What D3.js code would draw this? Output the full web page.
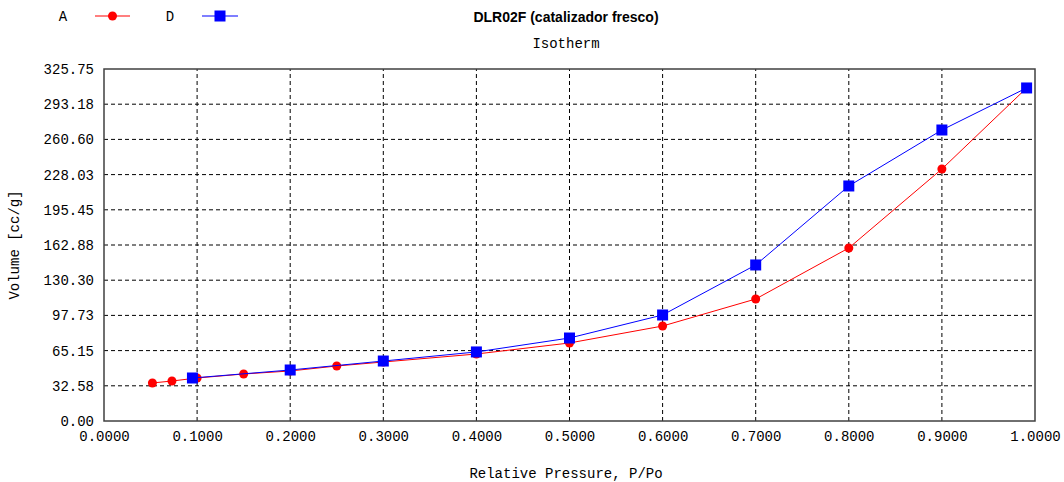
<!DOCTYPE html>
<html>
<head>
<meta charset="utf-8">
<script src="https://cdn.jsdelivr.net/npm/d3@7"></script>
<style>
  body { margin: 0; background: #fff; }
  svg { display: block; }
</style>
</head>
<body>
<div id="grafico"></div>
<script>
// datos
var presionA = [0.052, 0.073, 0.100, 0.150, 0.200, 0.250, 0.300, 0.400, 0.500, 0.600, 0.700, 0.800, 0.900, 0.991];
var volumenA = [35.2, 37.0, 39.8, 43.5, 46.3, 50.9, 54.6, 62.0, 72.2, 87.9, 112.9, 160.1, 233.2, 308.2];
var presionD = [0.095, 0.200, 0.300, 0.400, 0.500, 0.600, 0.700, 0.800, 0.900, 0.991];
var volumenD = [39.8, 47.2, 55.5, 63.9, 76.8, 98.1, 144.4, 217.5, 269.3, 308.2];
var ticksX = [0, 0.1, 0.2, 0.3, 0.4, 0.5, 0.6, 0.7, 0.8, 0.9, 1.0];
var ticksY = [0, 32.575, 65.15, 97.725, 130.3, 162.875, 195.45, 228.025, 260.6, 293.175, 325.75];
var etiquetasY = ["0.00", "32.58", "65.15", "97.73", "130.30", "162.88", "195.45", "228.03", "260.60", "293.18", "325.75"];

var ancho = 1064, alto = 482;
var m = {izq: 104, der: 29, arr: 69, aba: 61};
var mono = "'Liberation Mono', 'Courier New', monospace";

var svg = d3.select("#grafico").append("svg").attr("width", ancho).attr("height", alto);

var x = d3.scaleLinear().domain([0, 1]).range([m.izq, ancho - m.der]);
var y = d3.scaleLinear().domain([0, 325.75]).range([alto - m.aba, m.arr]);

// rejilla punteada
svg.append("g").selectAll("line").data(ticksX.slice(1, -1)).enter().append("line")
   .attr("x1", d => x(d)).attr("x2", d => x(d))
   .attr("y1", y(0)).attr("y2", y(325.75))
   .style("stroke", "#000").style("stroke-dasharray", "4,3");
svg.append("g").selectAll("line").data(ticksY.slice(1, -1)).enter().append("line")
   .attr("x1", x(0)).attr("x2", x(1))
   .attr("y1", d => y(d)).attr("y2", d => y(d))
   .style("stroke", "#000").style("stroke-dasharray", "4,3");

// ejes
var ejeX = svg.append("g").attr("transform", "translate(0," + y(0) + ")")
   .call(d3.axisBottom(x).tickValues(ticksX).tickSize(0).tickPadding(10).tickFormat(d3.format(".4f")));
var ejeY = svg.append("g").attr("transform", "translate(" + x(0) + ",0)")
   .call(d3.axisLeft(y).tickValues(ticksY).tickSize(0).tickPadding(10).tickFormat((d, i) => etiquetasY[i]));
[ejeX, ejeY].forEach(function (g) {
   g.select(".domain").remove();
   g.selectAll("text").style("font-family", mono).style("font-size", "14px").style("fill", "#000");
});

// marco
svg.append("rect")
   .attr("x", x(0)).attr("y", y(325.75))
   .attr("width", x(1) - x(0)).attr("height", y(0) - y(325.75))
   .style("fill", "none").style("stroke", "#404040").style("stroke-width", 1.5);

// series
var linea = d3.line().x(d => x(d[0])).y(d => y(d[1]));
var serieA = presionA.map((p, i) => [p, volumenA[i]]);
var serieD = presionD.map((p, i) => [p, volumenD[i]]);

svg.append("path").attr("d", linea(serieA))
   .style("fill", "none").style("stroke", "#ff0000").style("stroke-width", 1);
svg.append("g").selectAll("circle").data(serieA).enter().append("circle")
   .attr("cx", d => x(d[0])).attr("cy", d => y(d[1])).attr("r", 4.5)
   .style("fill", "#ff0000");

svg.append("path").attr("d", linea(serieD))
   .style("fill", "none").style("stroke", "#0000ff").style("stroke-width", 1);
svg.append("g").selectAll("rect").data(serieD).enter().append("rect")
   .attr("x", d => x(d[0]) - 5.5).attr("y", d => y(d[1]) - 5.5)
   .attr("width", 11).attr("height", 11)
   .style("fill", "#0000ff");

// titulos
var centro = 566;
svg.append("text").attr("x", centro).attr("y", 22).attr("text-anchor", "middle")
   .style("font-family", "'Liberation Sans', Arial, sans-serif").style("font-weight", "bold").style("font-size", "14px")
   .text("DLR02F (catalizador fresco)");
svg.append("text").attr("x", centro).attr("y", 48).attr("text-anchor", "middle")
   .style("font-family", mono).style("font-size", "14px").text("Isotherm");
svg.append("text").attr("x", centro).attr("y", 478).attr("text-anchor", "middle")
   .style("font-family", mono).style("font-size", "14px").text("Relative Pressure, P/Po");
svg.append("text").attr("transform", "translate(19," + ((y(0) + y(325.75)) / 2) + ") rotate(-90)")
   .attr("text-anchor", "middle")
   .style("font-family", mono).style("font-size", "14px").text("Volume [cc/g]");

// leyenda
var leyenda = [
   {nombre: "A", color: "#ff0000", forma: "circulo", xt: 63, x1: 95, x2: 130},
   {nombre: "D", color: "#0000ff", forma: "cuadrado", xt: 170, x1: 202, x2: 238}
];
leyenda.forEach(function (l) {
   svg.append("text").attr("x", l.xt).attr("y", 21).attr("text-anchor", "middle")
      .style("font-family", mono).style("font-size", "14px").text(l.nombre);
   svg.append("line").attr("x1", l.x1).attr("x2", l.x2).attr("y1", 16).attr("y2", 16)
      .style("stroke", l.color).style("stroke-width", 1.2);
   var cx = (l.x1 + l.x2) / 2;
   if (l.forma == "circulo") {
      svg.append("circle").attr("cx", cx).attr("cy", 16).attr("r", 4.5).style("fill", l.color);
   } else {
      svg.append("rect").attr("x", cx - 5.5).attr("y", 10.5).attr("width", 11).attr("height", 11).style("fill", l.color);
   }
});
</script>
</body>
</html>
